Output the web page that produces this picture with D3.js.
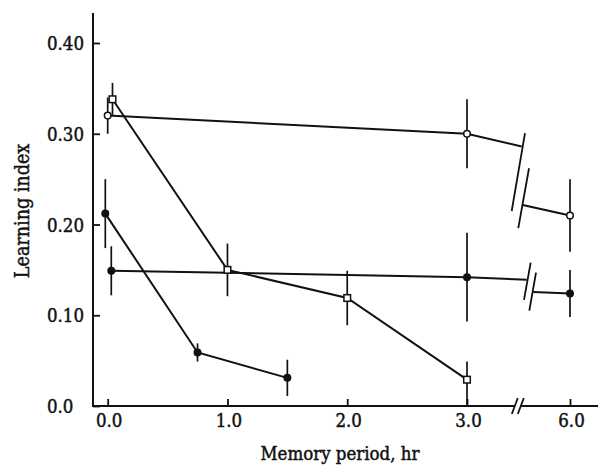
<!DOCTYPE html>
<html>
<head>
<meta charset="utf-8">
<script src="https://cdn.jsdelivr.net/npm/d3@7"></script>
<style>
  body { margin: 0; background: #fff; }
  svg text { font-family: "DejaVu Serif Condensed", "DejaVu Serif", serif; font-stretch: condensed;
             fill: #111; stroke: #111; stroke-width: 0.45px; }
</style>
</head>
<body>
<div id="chart"></div>
<script>
// values (hours, learning index)
const xTicks = [0, 1, 2, 3, 6];
const yTicks = [0, 0.1, 0.2, 0.3, 0.4];

// open circles
const timesA = [0, 3, 6];
const valsA = [0.32, 0.30, 0.21];
const errA = [0.02, 0.038, 0.04];
const breakA = [4.593, 0.286, 4.622, 0.2215]; // end t, end v, restart t, restart v
const slashesA = [[4.689, 0.3006, 4.302, 0.2149], [4.806, 0.262, 4.494, 0.196]];

// filled circles (flat)
const timesB = [0.03, 3, 6];
const valsB = [0.149, 0.142, 0.124];
const errB = [0.027, 0.049, 0.026];
const breakB = [4.739, 0.139, 4.931, 0.1256];
const slashesB = [[4.855, 0.158, 4.66, 0.117], [5.01, 0.147, 4.815, 0.105]];

// open squares
const timesC = [0.04, 1, 2, 3];
const valsC = [0.338, 0.15, 0.119, 0.029];
const errLoC = [0.018, 0.029, 0.03, 0.029];
const errHiC = [0.018, 0.029, 0.03, 0.02];

// filled circles (fast decay)
const timesD = [-0.02, 0.75, 1.5];
const valsD = [0.212, 0.059, 0.031];
const errD = [0.038, 0.01, 0.02];

const axisBreakT = 4.48;

const W = 598, H = 467;
const svg = d3.select("#chart").append("svg").attr("width", W).attr("height", H);

const x = d3.scaleLinear().domain([0, 3, 6]).range([107.7, 467, 570]);
const y = d3.scaleLinear().domain([0, 0.4]).range([406, 43]);
const x0 = 93, yTop = 13;

// axes
const yAx = svg.append("g").attr("transform", `translate(${x0},0)`)
  .call(d3.axisLeft(y).tickValues(yTicks).tickSize(-7).tickSizeOuter(0)
    .tickFormat(d => d === 0 ? "0.0" : d3.format(".2f")(d)));
yAx.select(".domain").remove();
yAx.selectAll(".tick line").attr("stroke", "#111").attr("stroke-width", 1.8);
yAx.selectAll(".tick text").attr("x", 47 - x0).attr("text-anchor", "start")
  .attr("dy", "0.36em").style("font-size", "18.5px");

const xAx = svg.append("g").attr("transform", `translate(0,${y(0)})`)
  .call(d3.axisBottom(x).tickValues(xTicks).tickSize(-7).tickSizeOuter(0)
    .tickFormat(d3.format(".1f")));
xAx.select(".domain").remove();
xAx.selectAll(".tick line").attr("stroke", "#111").attr("stroke-width", 1.8);
xAx.selectAll(".tick text").attr("x", 1).attr("y", 8).attr("dy", "0.71em").style("font-size", "18.5px");

const bx = x(axisBreakT);
svg.append("path")
  .attr("d", `M${x0},${yTop}V${y(0)}H${bx - 3}M${bx + 3},${y(0)}H${W}`)
  .attr("fill", "none").attr("stroke", "#111").attr("stroke-width", 2);
[-3, 3].forEach(o => {
  svg.append("line")
    .attr("x1", bx + o - 3).attr("y1", y(0) + 8)
    .attr("x2", bx + o + 3).attr("y2", y(0) - 8)
    .attr("stroke", "#111").attr("stroke-width", 1.8);
});

svg.append("text").attr("x", 340).attr("y", 460).attr("text-anchor", "middle")
  .style("font-size", "18.5px").text("Memory period, hr");
svg.append("text").attr("transform", "translate(29,211) rotate(-90)").attr("text-anchor", "middle")
  .style("font-size", "19.5px").text("Learning index");

// series lines
const line = d3.line().x(d => x(d[0])).y(d => y(d[1]));
const ink = g => g.attr("fill", "none").attr("stroke", "#111").attr("stroke-width", 2);

function pts(ts, vs) { return ts.map((t, i) => [t, vs[i]]); }

const segs = [
  pts(timesA, valsA).slice(0, 2).concat([[breakA[0], breakA[1]]]),
  [[breakA[2], breakA[3]]].concat(pts(timesA, valsA).slice(2)),
  pts(timesB, valsB).slice(0, 2).concat([[breakB[0], breakB[1]]]),
  [[breakB[2], breakB[3]]].concat(pts(timesB, valsB).slice(2)),
  pts(timesC, valsC),
  pts(timesD, valsD)
];
svg.append("g").selectAll("path").data(segs).join("path").attr("d", line).call(ink);

svg.append("g").selectAll("line").data(slashesA.concat(slashesB)).join("line")
  .attr("x1", d => x(d[0])).attr("y1", d => y(d[1]))
  .attr("x2", d => x(d[2])).attr("y2", d => y(d[3]))
  .attr("stroke", "#111").attr("stroke-width", 1.8);

// error bars
const bars = [];
timesA.forEach((t, i) => bars.push([t, valsA[i] - errA[i], valsA[i] + errA[i]]));
timesB.forEach((t, i) => bars.push([t, valsB[i] - errB[i], valsB[i] + errB[i]]));
timesC.forEach((t, i) => bars.push([t, valsC[i] - errLoC[i], valsC[i] + errHiC[i]]));
timesD.forEach((t, i) => bars.push([t, valsD[i] - errD[i], valsD[i] + errD[i]]));
svg.append("g").selectAll("line").data(bars).join("line")
  .attr("x1", d => x(d[0])).attr("x2", d => x(d[0]))
  .attr("y1", d => y(d[1])).attr("y2", d => y(d[2]))
  .attr("stroke", "#111").attr("stroke-width", 1.7);

// markers
svg.append("g").selectAll("circle").data(pts(timesA, valsA)).join("circle")
  .attr("cx", d => x(d[0])).attr("cy", d => y(d[1])).attr("r", 3.3)
  .attr("fill", "#fff").attr("stroke", "#111").attr("stroke-width", 1.5);
svg.append("g").selectAll("circle").data(pts(timesB, valsB).concat(pts(timesD, valsD))).join("circle")
  .attr("cx", d => x(d[0])).attr("cy", d => y(d[1])).attr("r", 4)
  .attr("fill", "#111");
svg.append("g").selectAll("rect").data(pts(timesC, valsC)).join("rect")
  .attr("x", d => x(d[0]) - 3.3).attr("y", d => y(d[1]) - 3.3)
  .attr("width", 6.6).attr("height", 6.6)
  .attr("fill", "#fff").attr("stroke", "#111").attr("stroke-width", 1.5);
</script>
</body>
</html>
